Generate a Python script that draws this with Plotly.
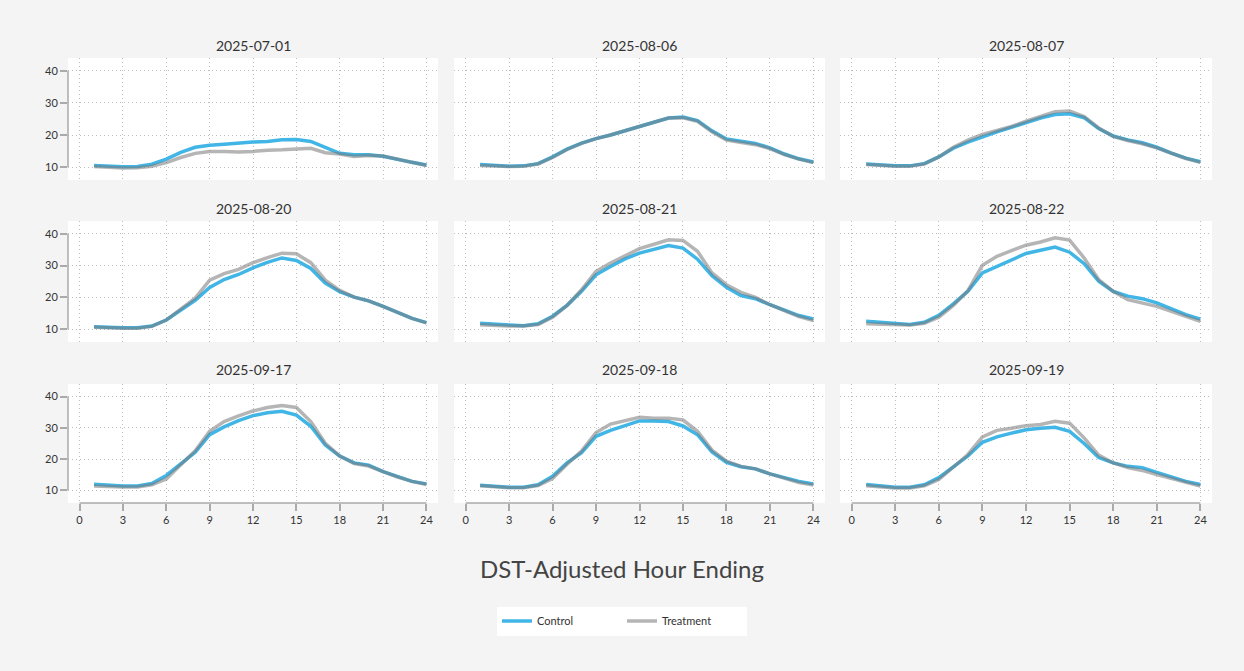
import plotly.graph_objects as go

hours = list(range(1, 25))
dates = ["2025-07-01", "2025-08-06", "2025-08-07",
         "2025-08-20", "2025-08-21", "2025-08-22",
         "2025-09-17", "2025-09-18", "2025-09-19"]

control_0701 = [10.5, 10.2, 10.1, 10.2, 10.9, 12.5, 14.6, 16.2, 16.8, 17.1, 17.5, 17.8,
                18.0, 18.5, 18.6, 18.0, 16.2, 14.3, 13.9, 13.9, 13.4, 12.4, 11.5, 10.7]
treatment_0701 = [10.2, 9.9, 9.7, 9.8, 10.3, 11.4, 13.0, 14.3, 14.9, 14.9, 14.7, 14.9,
                  15.3, 15.4, 15.7, 15.9, 14.5, 14.1, 13.3, 13.6, 13.5, 12.5, 11.5, 10.5]

control_0806 = [10.8, 10.5, 10.3, 10.4, 11.1, 13.2, 15.6, 17.5, 18.9, 20.0, 21.4, 22.7,
                24.0, 25.3, 25.6, 24.5, 21.3, 18.8, 18.2, 17.4, 16.0, 14.1, 12.6, 11.6]
treatment_0806 = [10.5, 10.3, 10.2, 10.3, 11.0, 13.0, 15.5, 17.4, 18.9, 20.0, 21.4, 22.7,
                  24.0, 25.3, 25.4, 24.3, 21.0, 18.4, 17.8, 17.0, 15.8, 13.9, 12.5, 11.4]

control_0807 = [11.0, 10.6, 10.4, 10.4, 11.1, 13.2, 15.9, 17.8, 19.5, 21.0, 22.4, 23.9,
                25.3, 26.4, 26.6, 25.4, 22.0, 19.7, 18.5, 17.6, 16.2, 14.4, 12.8, 11.7]
treatment_0807 = [10.8, 10.5, 10.3, 10.3, 11.0, 13.2, 16.2, 18.4, 20.2, 21.4, 22.7, 24.3,
                  25.7, 27.3, 27.5, 25.8, 22.2, 19.6, 18.3, 17.3, 16.0, 14.3, 12.7, 11.5]

control_0820 = [10.8, 10.6, 10.5, 10.5, 11.0, 12.9, 16.0, 19.1, 23.1, 25.6, 27.2, 29.3,
                31.0, 32.4, 31.6, 29.1, 24.5, 21.8, 20.1, 18.9, 17.2, 15.2, 13.4, 12.1]
treatment_0820 = [10.6, 10.4, 10.3, 10.3, 10.9, 12.9, 16.2, 19.8, 25.4, 27.5, 28.8, 30.9,
                  32.5, 33.9, 33.7, 30.9, 25.4, 22.2, 20.1, 18.9, 17.2, 15.2, 13.4, 12.0]

control_0821 = [11.9, 11.5, 11.3, 11.1, 11.7, 14.1, 17.5, 21.9, 27.1, 29.7, 32.1, 33.9,
                35.2, 36.3, 35.5, 32.0, 26.8, 23.2, 20.6, 19.6, 17.7, 15.9, 14.3, 13.2]
treatment_0821 = [11.4, 11.1, 11.0, 11.0, 11.5, 13.8, 17.5, 22.4, 28.2, 30.8, 33.1, 35.3,
                  36.7, 38.1, 37.9, 34.5, 27.7, 24.0, 21.6, 20.0, 17.7, 15.9, 14.0, 12.7]

control_0822 = [12.5, 12.1, 11.8, 11.5, 12.2, 14.4, 18.0, 21.9, 27.7, 29.8, 31.9, 33.8,
                34.8, 35.8, 34.2, 30.6, 25.1, 21.9, 20.4, 19.6, 18.3, 16.5, 14.6, 13.2]
treatment_0822 = [11.7, 11.5, 11.3, 11.3, 11.9, 13.8, 17.5, 22.1, 30.1, 32.9, 34.7, 36.4,
                  37.4, 38.7, 38.0, 32.4, 25.6, 21.9, 19.3, 18.3, 17.2, 15.6, 14.0, 12.5]

control_0917 = [12.0, 11.7, 11.4, 11.4, 12.2, 14.8, 18.6, 22.2, 27.8, 30.3, 32.3, 33.9,
                34.8, 35.3, 34.1, 30.5, 24.5, 21.0, 18.8, 18.1, 16.0, 14.4, 12.9, 12.1]
treatment_0917 = [11.4, 11.2, 11.1, 11.1, 11.8, 13.7, 18.3, 22.7, 28.9, 32.0, 33.8, 35.4,
                  36.5, 37.1, 36.5, 32.0, 25.1, 21.0, 18.6, 17.8, 16.0, 14.3, 12.9, 11.9]

control_0918 = [11.7, 11.3, 11.0, 11.0, 11.8, 14.5, 18.8, 22.1, 27.3, 29.2, 30.6, 32.2,
                32.2, 32.0, 30.6, 27.8, 22.3, 19.0, 17.6, 16.9, 15.3, 14.1, 12.9, 12.1]
treatment_0918 = [11.5, 11.1, 10.9, 10.9, 11.6, 13.8, 18.4, 22.6, 28.5, 31.2, 32.3, 33.4,
                  33.1, 33.1, 32.5, 28.9, 22.9, 19.4, 17.7, 16.9, 15.3, 13.8, 12.5, 11.7]

control_0919 = [11.9, 11.4, 11.0, 11.0, 11.8, 14.1, 17.7, 21.0, 25.4, 27.1, 28.3, 29.4,
                29.9, 30.2, 28.9, 25.0, 20.5, 18.8, 17.7, 17.3, 15.8, 14.3, 12.9, 11.9]
treatment_0919 = [11.5, 11.1, 10.8, 10.8, 11.5, 13.5, 17.6, 21.5, 27.1, 29.2, 29.9, 30.7,
                  31.1, 32.1, 31.5, 26.8, 21.3, 18.8, 17.3, 16.4, 15.1, 13.8, 12.5, 11.4]

x_ticks = [0, 3, 6, 9, 12, 15, 18, 21, 24]
y_ticks = [10, 20, 30, 40]

controls = [control_0701, control_0806, control_0807, control_0820, control_0821,
            control_0822, control_0917, control_0918, control_0919]
treatments = [treatment_0701, treatment_0806, treatment_0807, treatment_0820, treatment_0821,
              treatment_0822, treatment_0917, treatment_0918, treatment_0919]

W, H = 1244, 671
BLUE = "#41b6e6"
GRAY = "rgba(120,120,120,0.55)"
FONT = "Lato"
GRID = "#bdbdbd"
GRIDDASH = "1px,3px"

col_px = [(68, 438), (454, 825), (840, 1212)]
row_px = [(58, 180), (221, 342), (384, 503)]
title_y_px = [45, 208, 370]
xdom = [[a / W, b / W] for a, b in col_px]
ydom = [[1 - b / H, 1 - a / H] for a, b in row_px]

fig = go.Figure()
layout = {}
shapes = []
annotations = []

for i, (d, c, t) in enumerate(zip(dates, controls, treatments)):
    r, col = divmod(i, 3)
    n = i + 1
    xn = "x" if n == 1 else f"x{n}"
    yn = "y" if n == 1 else f"y{n}"
    fig.add_trace(go.Scatter(x=hours, y=c, xaxis=xn, yaxis=yn, mode="lines",
                             name="Control", legendgroup="Control", showlegend=(i == 0),
                             line=dict(color=BLUE, width=3.5), hoverinfo="x+y"))
    fig.add_trace(go.Scatter(x=hours, y=t, xaxis=xn, yaxis=yn, mode="lines",
                             name="Treatment", legendgroup="Treatment", showlegend=(i == 0),
                             line=dict(color=GRAY, width=3.5), hoverinfo="x+y"))
    layout["xaxis" if n == 1 else f"xaxis{n}"] = dict(
        domain=xdom[col], anchor=yn, range=[-0.8, 24.8], tickvals=x_ticks,
        showgrid=True, gridcolor=GRID, griddash=GRIDDASH, gridwidth=1,
        zeroline=False, showline=False, showticklabels=(r == 2),
        ticks="outside" if r == 2 else "", ticklen=7, tickcolor="#aaaaaa", tickwidth=1.5,
        tickfont=dict(size=11, color="#333333", family=FONT))
    layout["yaxis" if n == 1 else f"yaxis{n}"] = dict(
        domain=ydom[r], anchor=xn, range=[6, 44], tickvals=y_ticks,
        showgrid=True, gridcolor=GRID, griddash=GRIDDASH, gridwidth=1,
        zeroline=False, showline=False, showticklabels=(col == 0),
        ticks="outside" if col == 0 else "", ticklen=7, tickcolor="#aaaaaa", tickwidth=1.5,
        tickfont=dict(size=11, color="#333333", family=FONT))
    if col == 0:
        shapes.append(dict(type="line", xref=f"{xn} domain", yref=yn, x0=0, x1=0,
                           y0=10, y1=40, line=dict(color="#aaaaaa", width=1.5)))
    if r == 2:
        shapes.append(dict(type="line", xref=xn, yref=f"{yn} domain", x0=0, x1=24,
                           y0=0, y1=0, line=dict(color="#aaaaaa", width=1.5)))
    annotations.append(dict(text=d, xref="paper", yref="paper",
                            x=(xdom[col][0] + xdom[col][1]) / 2, y=1 - title_y_px[r] / H,
                            xanchor="center", yanchor="middle", showarrow=False,
                            font=dict(size=14, color="#333333", family=FONT)))

annotations.append(dict(text="DST-Adjusted Hour Ending", xref="paper", yref="paper",
                        x=622 / W, y=1 - 568 / H, xanchor="center", yanchor="middle",
                        showarrow=False, font=dict(size=24, color="#444444", family=FONT)))

fig.update_layout(
    width=W, height=H, margin=dict(l=0, r=0, t=0, b=0),
    paper_bgcolor="#f4f4f4", plot_bgcolor="white",
    font=dict(family=FONT, color="#333333"),
    shapes=shapes, annotations=annotations,
    legend=dict(orientation="h", x=0.5, xanchor="center", y=1 - 621 / H, yanchor="middle",
                bgcolor="white", font=dict(size=11, color="#333333", family=FONT),
                itemwidth=30, entrywidth=80, borderwidth=0),
    **layout)

fig.write_html("out.html", config={"displayModeBar": False})

with open("out.html", "r", encoding="utf-8") as f:
    html = f.read()
html = html.replace("<head>", "<head><style>html,body{margin:0;padding:0;overflow:hidden;}</style>", 1)
with open("out.html", "w", encoding="utf-8") as f:
    f.write(html)
